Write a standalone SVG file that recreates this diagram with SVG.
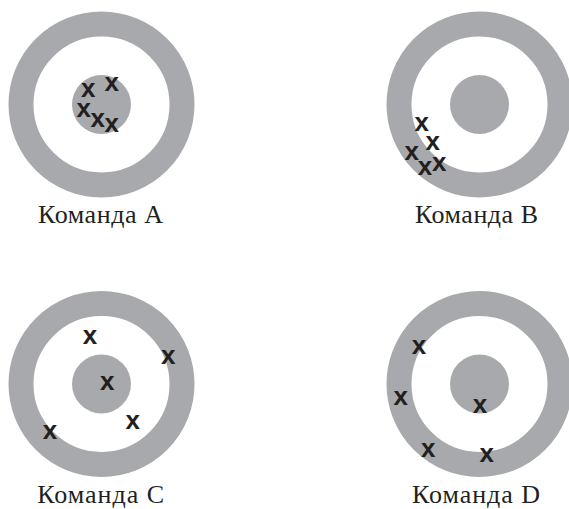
<svg xmlns="http://www.w3.org/2000/svg" width="569" height="509" viewBox="0 0 569 509">
<style>
.ring{fill:none;stroke:#a7a9ac;stroke-width:25}
.bull{fill:#a7a9ac}
.x{font-family:"Liberation Sans",Arial,sans-serif;font-weight:bold;font-size:26px;fill:#231f20;text-anchor:middle}
.lbl{font-family:"Liberation Serif","Times New Roman",serif;font-size:26px;fill:#231f20;text-anchor:middle}
</style>
<rect width="569" height="509" fill="#ffffff"/>
<g id="teamA">
<circle class="ring" cx="101.5" cy="104.5" r="80.5"/>
<circle class="bull" cx="101.5" cy="104.5" r="29.5"/>
<text class="x" x="88.3" y="97">x</text>
<text class="x" x="111.7" y="90.5">x</text>
<text class="x" x="83.7" y="117">x</text>
<text class="x" x="97.8" y="127">x</text>
<text class="x" x="111.7" y="132">x</text>
<text class="lbl" x="100.5" y="223" textLength="125" lengthAdjust="spacing">Команда A</text>
</g>
<g id="teamB">
<circle class="ring" cx="479.5" cy="104.5" r="80.5"/>
<circle class="bull" cx="479.5" cy="104.5" r="29.5"/>
<text class="x" x="421.7" y="131">x</text>
<text class="x" x="432.7" y="149.5">x</text>
<text class="x" x="411.7" y="160">x</text>
<text class="x" x="425" y="174.5">x</text>
<text class="x" x="439.3" y="171">x</text>
<text class="lbl" x="476.5" y="223" textLength="123" lengthAdjust="spacing">Команда B</text>
</g>
<g id="teamC">
<circle class="ring" cx="101.5" cy="384" r="80.5"/>
<circle class="bull" cx="101.5" cy="384" r="29.5"/>
<text class="x" x="90" y="343.5">x</text>
<text class="x" x="168.3" y="363.5">x</text>
<text class="x" x="107.3" y="390">x</text>
<text class="x" x="132.7" y="428.5">x</text>
<text class="x" x="50" y="438.5">x</text>
<text class="lbl" x="100.7" y="503" textLength="127" lengthAdjust="spacing">Команда C</text>
</g>
<g id="teamD">
<circle class="ring" cx="479.5" cy="384" r="80.5"/>
<circle class="bull" cx="479.5" cy="384" r="29.5"/>
<text class="x" x="419" y="354">x</text>
<text class="x" x="400.7" y="405">x</text>
<text class="x" x="480" y="412.5">x</text>
<text class="x" x="428.3" y="457">x</text>
<text class="x" x="486.7" y="462">x</text>
<text class="lbl" x="476" y="503" textLength="128" lengthAdjust="spacing">Команда D</text>
</g>
</svg>
